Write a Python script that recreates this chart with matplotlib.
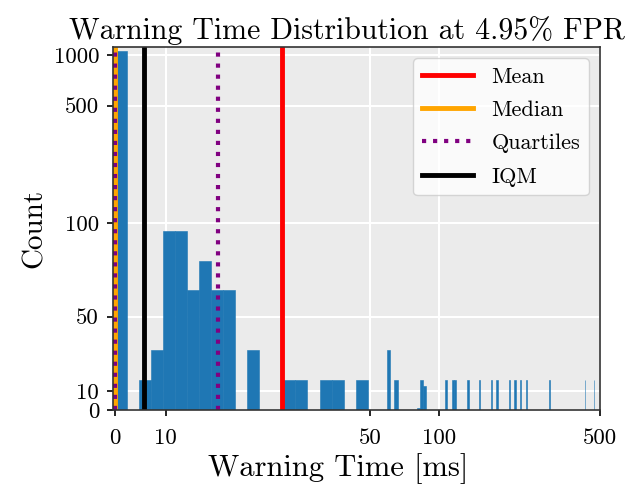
"""
Warning time histogram with summary statistic markers (symlog axes)
"""

import numpy as np
import matplotlib
matplotlib.use('Agg')
import matplotlib.pyplot as plt
from matplotlib.ticker import NullLocator

plt.rcParams['font.family'] = 'cmr10'
plt.rcParams['mathtext.fontset'] = 'cm'
plt.rcParams['axes.formatter.use_mathtext'] = True

# Histogram data: 200 bins over 0..472 ms, one representative time per populated bin
n_bins = 200
bin_range = (0, 472)
warn_ms = [1.2, 5.9, 8.3, 10.6, 13.0, 15.3, 17.7, 20.1, 22.4, 27.1,
           34.2, 36.6, 41.3, 43.7, 48.4, 60.2, 64.9, 81.4, 83.8, 86.1,
           107.4, 114.5, 116.8, 133.3, 149.9, 168.7, 178.2, 201.8, 213.6, 225.4,
           239.5, 300.9, 430.7, 470.8]
counts = [1056, 16, 32, 96, 96, 64, 80, 64, 64, 32,
          16, 16, 16, 16, 16, 32, 16, 1, 16, 13,
          16, 16, 16, 16, 16, 16, 16, 16, 16, 16,
          16, 16, 16, 16]

# Summary statistics (ms)
mean_ms = 32.8
median_ms = 0.05
quartiles_ms = [0.05, 20.2]
iqm_ms = 5.7

x_ticks = [0, 10, 50, 100, 500]
y_ticks = [0, 10, 50, 100, 500, 1000]

fig, ax = plt.subplots(figsize=(6.36, 4.86), dpi=100)
fig.subplots_adjust(left=113/636, right=600/636, top=1-47/486, bottom=1-410/486)

ax.set_facecolor('#EBEBEB')
ax.set_axisbelow(True)
ax.grid(True, color='white', linewidth=1.5)

ax.hist(warn_ms, bins=n_bins, range=bin_range, weights=counts,
        color='#1f77b4', edgecolor='#1f77b4', linewidth=0.4)

ax.set_xscale('symlog', linthresh=50)
ax.set_yscale('symlog', linthresh=100)

ax.axvline(mean_ms, color='red', linewidth=3.5, label='Mean')
ax.axvline(median_ms, color='orange', linewidth=3.5, label='Median')
for i, q in enumerate(quartiles_ms):
    ax.axvline(q, color='purple', linestyle=':', linewidth=3,
               label='Quartiles' if i == 0 else None)
ax.axvline(iqm_ms, color='black', linewidth=3.5, label='IQM')

ax.set_xlim(-0.3, 500)
ax.set_ylim(0, 1115)
ax.set_xticks(x_ticks, [str(t) for t in x_ticks])
ax.set_yticks(y_ticks, [str(t) for t in y_ticks])
ax.xaxis.set_minor_locator(NullLocator())
ax.yaxis.set_minor_locator(NullLocator())
ax.tick_params(axis='both', labelsize=16.5, length=4, width=1.2)
ax.tick_params(axis='x', pad=9)
ax.tick_params(axis='y', pad=6)

for sp in ax.spines.values():
    sp.set_color('#333333')
    sp.set_linewidth(1.2)

ax.set_title('Warning Time Distribution at 4.95% FPR', fontsize=21.5, x=0.48)
ax.set_xlabel('Warning Time [ms]', fontsize=22, x=0.462)
ax.set_ylabel('Count', fontsize=21)

ax.legend(loc='upper right', fontsize=16, handlelength=2.3, labelspacing=0.62)

plt.savefig('out.png', dpi=100, facecolor='white')
